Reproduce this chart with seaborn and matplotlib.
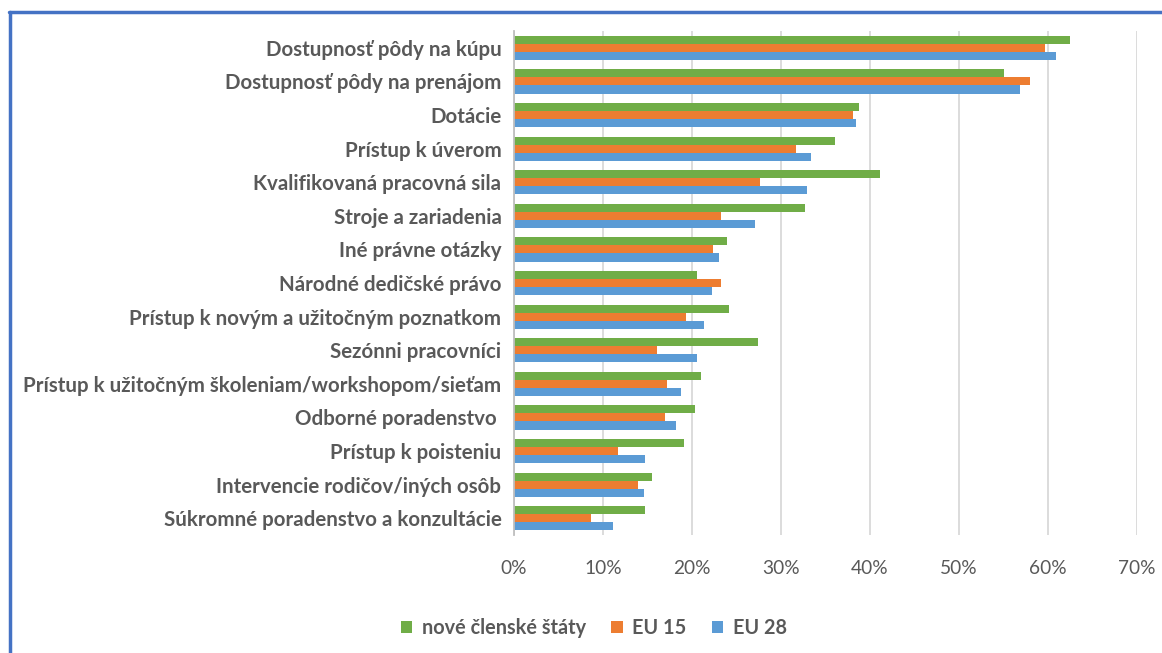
import pandas as pd
import matplotlib.pyplot as plt
import seaborn as sns
from matplotlib.lines import Line2D
from matplotlib.patches import Patch

# kategórie a hodnoty (%)
kategorie = [
    "Dostupnosť pôdy na kúpu",
    "Dostupnosť pôdy na prenájom",
    "Dotácie",
    "Prístup k úverom",
    "Kvalifikovaná pracovná sila",
    "Stroje a zariadenia",
    "Iné právne otázky",
    "Národné dedičské právo",
    "Prístup k novým a užitočným poznatkom",
    "Sezónni pracovníci",
    "Prístup k užitočným školeniam/workshopom/sieťam",
    "Odborné poradenstvo ",
    "Prístup k poisteniu",
    "Intervencie rodičov/iných osôb",
    "Súkromné poradenstvo a konzultácie",
]
nove_clenske = [62.5, 55.0, 38.8, 36.1, 41.1, 32.7, 23.9, 20.6, 24.2, 27.4, 21.0, 20.3, 19.1, 15.5, 14.7]
eu15 = [59.7, 58.0, 38.1, 31.7, 27.6, 23.3, 22.4, 23.3, 19.3, 16.1, 17.2, 17.0, 11.7, 13.9, 8.6]
eu28 = [60.9, 56.8, 38.4, 33.4, 32.9, 27.1, 23.0, 22.3, 21.3, 20.6, 18.8, 18.2, 14.7, 14.6, 11.1]

serie = ["nové členské štáty", "EU 15", "EU 28"]
farby = ["#70AD47", "#ED7D31", "#5B9BD5"]
xticky = [0, 10, 20, 30, 40, 50, 60, 70]

df = pd.DataFrame({"Kategoria": kategorie,
                   serie[0]: nove_clenske,
                   serie[1]: eu15,
                   serie[2]: eu28})
df_long = df.melt(id_vars="Kategoria", var_name="Skupina", value_name="Podiel")

sns.set_style("white")
plt.rcParams["font.family"] = ["Lato", "DejaVu Sans"]
sivá = "#595959"

fig = plt.figure(figsize=(11.62, 6.53), dpi=100)
ax = fig.add_axes([0.4423, 0.1807, 0.5362, 0.7718])

sns.barplot(data=df_long, y="Kategoria", x="Podiel", hue="Skupina",
            hue_order=serie, palette=farby, order=kategorie,
            orient="h", width=0.72, saturation=1, ax=ax, legend=False,
            edgecolor="none")

ax.set_xlim(0, 70)
ax.set_ylim(14.5, -0.5)
ax.set_xticks(xticky)
ax.set_xticklabels([f"{t}%" for t in xticky], fontsize=13.8, color=sivá)
ax.set_yticklabels(kategorie, fontsize=14.8, fontweight="bold", color=sivá)
ax.tick_params(axis="x", length=0, pad=18)
ax.tick_params(axis="y", length=0, pad=9)
ax.set_xlabel("")
ax.set_ylabel("")
ax.grid(axis="x", color="#D9D9D9", linewidth=1.3)
ax.set_axisbelow(True)
for s in ["top", "right", "bottom"]:
    ax.spines[s].set_visible(False)
ax.spines["left"].set_color("#BFBFBF")
ax.spines["left"].set_linewidth(1.3)

# legenda
handles = [Patch(facecolor=c, edgecolor="none") for c in farby]
fig.legend(handles, serie, loc="center", bbox_to_anchor=(0.511, 0.038),
           ncol=3, frameon=False, handlelength=0.58, handleheight=0.58,
           columnspacing=1.25, handletextpad=0.5,
           prop={"size": 14.3, "weight": "bold"}, labelcolor=sivá)

# modrý rámček (ľavá a horná strana)
fig.add_artist(Line2D([0.0086, 0.0086], [0, 0.982], transform=fig.transFigure,
                      color="#4472C4", linewidth=2.5))
fig.add_artist(Line2D([0.0075, 1.0], [0.982, 0.982], transform=fig.transFigure,
                      color="#4472C4", linewidth=2.5))

fig.savefig("out.png", dpi=100)
